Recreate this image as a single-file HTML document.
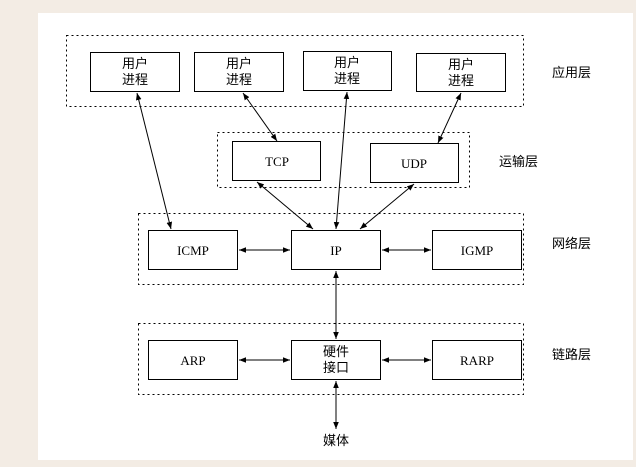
<!DOCTYPE html>
<html><head><style>
body{margin:0;background:#f3ece4;width:636px;height:467px;overflow:hidden}
svg{display:block}
text{font-family:"Liberation Serif","Noto Sans CJK SC",serif;font-size:13px;fill:#000}
.c{font-family:"Noto Sans CJK SC","WenQuanYi Zen Hei",sans-serif;font-size:13px}
</style></head><body>
<svg width="636" height="467" xmlns="http://www.w3.org/2000/svg">
<defs>
<marker id="a" viewBox="0 0 10 10" refX="10" refY="5" markerWidth="7" markerHeight="7" orient="auto-start-reverse"><path d="M0,1 L10,5 L0,9 z" fill="#000"/></marker>
</defs>
<rect x="38" y="13" width="595" height="447" fill="#fff"/>
<g fill="none" stroke="#000" stroke-dasharray="2,3" stroke-width="1">
<rect x="66.5" y="35.5" width="457" height="71"/>
<rect x="217.5" y="132.5" width="252" height="55"/>
<rect x="138.5" y="213.5" width="385" height="71"/>
<rect x="138.5" y="323.5" width="385" height="71"/>
</g>
<g fill="#fff" stroke="#000">
<rect x="90.5" y="52.5" width="89" height="39"/>
<rect x="194.5" y="52.5" width="89" height="39"/>
<rect x="303.5" y="51.5" width="88" height="39"/>
<rect x="416.5" y="53.5" width="89" height="38"/>
<rect x="232.5" y="141.5" width="88" height="39"/>
<rect x="370.5" y="143.5" width="88" height="39"/>
<rect x="148.5" y="230.5" width="89" height="39"/>
<rect x="291.5" y="230.5" width="89" height="39"/>
<rect x="432.5" y="230.5" width="89" height="39"/>
<rect x="148.5" y="340.5" width="89" height="39"/>
<rect x="291.5" y="340.5" width="89" height="39"/>
<rect x="432.5" y="340.5" width="89" height="39"/>
</g>
<g stroke="#000" stroke-width="1" marker-start="url(#a)" marker-end="url(#a)">
<line x1="137" y1="93" x2="171" y2="229"/>
<line x1="243" y1="93" x2="277" y2="141"/>
<line x1="347" y1="92" x2="336" y2="229"/>
<line x1="461" y1="93" x2="438" y2="143"/>
<line x1="257" y1="182" x2="313" y2="229"/>
<line x1="414" y1="184" x2="360" y2="229"/>
<line x1="239" y1="250" x2="290" y2="250"/>
<line x1="382" y1="250" x2="431" y2="250"/>
<line x1="336" y1="271" x2="336" y2="339"/>
<line x1="239" y1="360" x2="290" y2="360"/>
<line x1="382" y1="360" x2="431" y2="360"/>
<line x1="336" y1="381" x2="336" y2="429"/>
</g>
<g class="c" text-anchor="middle">
<text class="c" x="135" y="68">用户</text><text class="c" x="135" y="84">进程</text>
<text class="c" x="239" y="68">用户</text><text class="c" x="239" y="84">进程</text>
<text class="c" x="347" y="67">用户</text><text class="c" x="347" y="83">进程</text>
<text class="c" x="461" y="69">用户</text><text class="c" x="461" y="85">进程</text>
<text class="c" x="336" y="356">硬件</text><text class="c" x="336" y="372">接口</text>
<text class="c" x="336" y="445">媒体</text>
</g>
<g text-anchor="middle">
<text x="277" y="166">TCP</text>
<text x="414" y="168">UDP</text>
<text x="193" y="255">ICMP</text>
<text x="336" y="255">IP</text>
<text x="477" y="255">IGMP</text>
<text x="193" y="365">ARP</text>
<text x="477" y="365">RARP</text>
</g>
<text class="c" x="552" y="77">应用层</text>
<text class="c" x="499" y="166">运输层</text>
<text class="c" x="552" y="248">网络层</text>
<text class="c" x="552" y="359">链路层</text>
</svg>
</body></html>
